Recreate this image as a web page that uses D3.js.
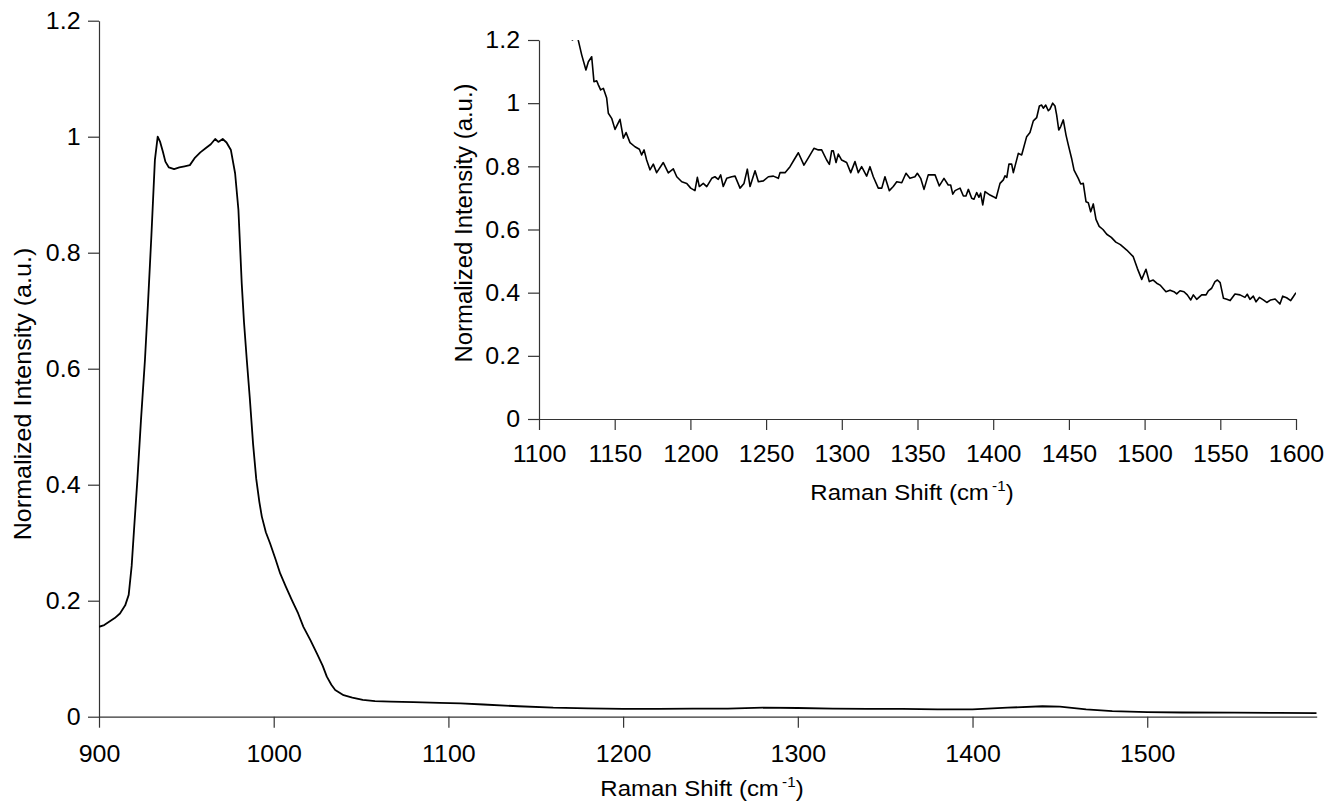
<!DOCTYPE html>
<html>
<head>
<meta charset="utf-8">
<script src="https://cdn.jsdelivr.net/npm/d3@7"></script>
<style>
  body { margin: 0; background: #fff; }
  text { font-family: "Liberation Sans", Arial, sans-serif; fill: #000; }
</style>
</head>
<body>
<script>
//** Main spectrum (900 - 1597 cm-1)
var mainShift = [900, 903, 906, 909, 912, 915, 917, 918.7, 920, 922, 924, 926.3, 928, 930, 932, 933.6, 935, 936.5,
  938, 940, 943, 946, 949, 952, 955, 958, 961, 964, 966.5, 968.3, 970.8, 973, 975.5, 977.9, 979.8, 981.7, 983,
  984.6, 986.3, 988.2, 990, 991.8, 993.2, 995.5, 997.9, 1001, 1003.7, 1007, 1010.4, 1014, 1017, 1021, 1024.7, 1028,
  1030.4, 1033, 1035.2, 1040, 1045, 1051, 1058, 1067, 1080, 1095, 1107, 1120, 1140, 1160, 1180, 1200, 1220,
  1240, 1260, 1280, 1300, 1320, 1340, 1360, 1380, 1400, 1420, 1440, 1450, 1465, 1480, 1500, 1520, 1550, 1575, 1597];
var mainIntensity = [0.155, 0.158, 0.164, 0.170, 0.178, 0.192, 0.21, 0.26, 0.32, 0.41, 0.51, 0.615, 0.71, 0.83,
  0.96, 1.0, 0.991, 0.975, 0.957, 0.947, 0.944, 0.947, 0.949, 0.951, 0.964, 0.973, 0.980, 0.987, 0.996, 0.991,
  0.996, 0.990, 0.977, 0.937, 0.874, 0.747, 0.68, 0.615, 0.55, 0.47, 0.41, 0.37, 0.345, 0.318, 0.299, 0.272, 0.247,
  0.224, 0.201, 0.178, 0.155, 0.132, 0.109, 0.088, 0.069, 0.055, 0.046, 0.037, 0.033, 0.029, 0.027, 0.026, 0.025,
  0.024, 0.023, 0.021, 0.018, 0.0155, 0.0145, 0.0135, 0.0135, 0.0138, 0.014, 0.0155, 0.015, 0.014, 0.0135,
  0.0135, 0.0128, 0.0125, 0.0155, 0.018, 0.0175, 0.0125, 0.0095, 0.0078, 0.0072, 0.007, 0.0065, 0.006];

//** Inset spectrum (1100 - 1600 cm-1)
var insetShift = [1122, 1124, 1126, 1128.2, 1131, 1132.6, 1134.8, 1136.3, 1138.1, 1139.2, 1140.7, 1142.5, 1144.7,
  1145.8, 1148, 1150.2, 1153.5, 1155.7, 1157.5, 1160.1, 1163.4, 1166.3, 1167.8, 1169.4, 1171.1, 1173.3, 1175.5,
  1177.7, 1182.1, 1185.4, 1188.7, 1191, 1194.3, 1197.6, 1200.2, 1203, 1204.6, 1205.9, 1208.5, 1210.8, 1214.1,
  1216.2, 1218.4, 1220, 1221.7, 1224, 1227.3, 1229.5, 1232.8, 1235.4, 1237.6, 1239.4, 1242.7, 1244.9, 1248.2,
  1251.5, 1254.8, 1258.1, 1259.2, 1262.5, 1265.8, 1268.4, 1271.3, 1275, 1277.9, 1281.6, 1284.5, 1286.7, 1290,
  1291.8, 1293.3, 1294.4, 1296.2, 1297.7, 1299.9, 1303.2, 1305.9, 1308.7, 1310.9, 1313.1, 1316.4, 1318.6, 1320.8,
  1324.1, 1326.4, 1328.5, 1331.4, 1334, 1336.3, 1339.6, 1342.4, 1345, 1348.3, 1349.9, 1352.1, 1354.3, 1357.1,
  1360, 1361.6, 1364.4, 1367.5, 1370.3, 1371.9, 1373.3, 1374.8, 1378.1, 1380.3, 1382, 1383.6, 1385.8, 1387.3,
  1389.1, 1390.6, 1391.7, 1393.1, 1394.6, 1397.9, 1400.1, 1401.9, 1404.5, 1406.7, 1407.8, 1409, 1410.4, 1412.2,
  1413.3, 1416.6, 1418.8, 1422.1, 1424.3, 1426.5, 1428.7, 1430.5, 1432, 1433.1, 1434.7, 1436.4, 1437.5, 1439.3,
  1440.8, 1441.9, 1443.3, 1444.6, 1446.3, 1448.1, 1449.6, 1451.8, 1453.4, 1456.2, 1457.8, 1459.5, 1461.3, 1462.8,
  1464.4, 1466.1, 1467.9, 1470, 1472.5, 1475, 1478, 1481, 1484, 1488.2, 1492.5, 1495.2, 1498.1, 1500.9, 1503.1,
  1505.7, 1508, 1510.2, 1514.1, 1516.8, 1519.4, 1521.2, 1523.4, 1526, 1528.2, 1530.5, 1532.2, 1534.4, 1537.7,
  1540.6, 1542.1, 1544.3, 1546.5, 1548.1, 1549.9, 1552.1, 1554.3, 1556.5, 1559.7, 1563, 1566.3, 1567.8, 1569.6,
  1571.8, 1573.6, 1575.8, 1578.4, 1580.7, 1583.3, 1586.2, 1589.4, 1591.2, 1593.8, 1596.5, 1598.2, 1600];
var insetIntensity = [1.198, 1.25, 1.198, 1.153, 1.105, 1.131, 1.147, 1.068, 1.071, 1.058, 1.042, 1.047, 1.016,
  0.968, 0.952, 0.917, 0.949, 0.889, 0.907, 0.875, 0.862, 0.854, 0.836, 0.852, 0.820, 0.789, 0.807,
  0.780, 0.812, 0.779, 0.792, 0.767, 0.751, 0.746, 0.731, 0.723, 0.765, 0.736, 0.746, 0.736, 0.762,
  0.767, 0.759, 0.773, 0.736, 0.762, 0.767, 0.769, 0.731, 0.746, 0.791, 0.736, 0.786, 0.751, 0.754,
  0.767, 0.769, 0.762, 0.780, 0.780, 0.799, 0.820, 0.843, 0.804, 0.827, 0.857, 0.852, 0.852, 0.820,
  0.806, 0.849, 0.849, 0.812, 0.839, 0.820, 0.812, 0.780, 0.815, 0.780, 0.799, 0.769, 0.799, 0.767,
  0.731, 0.731, 0.767, 0.723, 0.736, 0.751, 0.748, 0.778, 0.762, 0.767, 0.778, 0.762, 0.727, 0.773,
  0.773, 0.773, 0.738, 0.762, 0.741, 0.741, 0.712, 0.723, 0.731, 0.706, 0.706, 0.727, 0.699, 0.696,
  0.717, 0.702, 0.715, 0.678, 0.720, 0.709, 0.704, 0.699, 0.746, 0.757, 0.770, 0.765, 0.807, 0.807,
  0.780, 0.841, 0.836, 0.894, 0.907, 0.944, 0.954, 0.991, 0.994, 0.984, 0.994, 0.976, 0.981, 1.0,
  0.991, 0.963, 0.915, 0.926, 0.947, 0.899, 0.868, 0.825, 0.788, 0.762, 0.744, 0.746, 0.688, 0.685,
  0.656, 0.681, 0.632, 0.61, 0.6, 0.585, 0.575, 0.56, 0.552, 0.535, 0.514, 0.477, 0.442, 0.474, 0.435,
  0.44, 0.430, 0.424, 0.403, 0.408, 0.403, 0.396, 0.406, 0.403, 0.393, 0.377, 0.393, 0.379, 0.393,
  0.393, 0.406, 0.414, 0.435, 0.44, 0.432, 0.382, 0.379, 0.375, 0.396, 0.393, 0.385, 0.395, 0.379,
  0.389, 0.371, 0.385, 0.377, 0.369, 0.377, 0.38, 0.364, 0.389, 0.384, 0.375, 0.387, 0.4];

//** Tick labels
var mainXTicks = [900, 1000, 1100, 1200, 1300, 1400, 1500];
var insetXTicks = [1100, 1150, 1200, 1250, 1300, 1350, 1400, 1450, 1500, 1550, 1600];
var yTicks = [0, 0.2, 0.4, 0.6, 0.8, 1, 1.2];

// ** text in the original is a bit wider than plain Liberation Sans
var tickStretch = 1.04;
var titleStretch = 1.09;

var svg = d3.select('body').append('svg')
            .attr('width', 1340)
            .attr('height', 804);

//** Draw one panel (axes + titles + line)
var drawPanel = function(opt){
  var x = d3.scaleLinear().domain(opt.xDomain).range([opt.left, opt.right]);
  var y = d3.scaleLinear().domain([0, 1.2]).range([opt.bottom, opt.top]);

  var clipId = opt.name + '-clip';
  svg.append('clipPath').attr('id', clipId)
     .append('rect')
     .attr('x', opt.left).attr('y', opt.top)
     .attr('width', opt.right - opt.left).attr('height', opt.bottom - opt.top);

  var gx = svg.append('g')
      .attr('transform', 'translate(0,' + opt.bottom + ')')
      .call(d3.axisBottom(x).tickValues(opt.xTicks).tickFormat(d3.format('d'))
            .tickSize(11).tickSizeOuter(0).tickPadding(opt.xPad));
  var gy = svg.append('g')
      .attr('transform', 'translate(' + opt.left + ',0)')
      .call(d3.axisLeft(y).tickValues(yTicks).tickFormat(d3.format(''))
            .tickSize(11).tickSizeOuter(0).tickPadding(opt.yPad));

  [gx, gy].forEach(function(g){
    g.select('.domain').attr('stroke', '#333').attr('stroke-width', 1.2);
    g.selectAll('.tick line').attr('stroke', '#333').attr('stroke-width', 1.2);
    g.selectAll('.tick text')
     .style('font-size', '24px').attr('fill', '#000')
     .attr('transform', 'scale(' + tickStretch + ',1)');
  });
  gy.selectAll('.tick text').attr('x', -(11 + opt.yPad) / tickStretch);

  //** Line
  var pts = opt.xs.map(function(d, i){ return [d, opt.ys[i]]; });
  svg.append('path')
     .datum(pts)
     .attr('clip-path', 'url(#' + clipId + ')')
     .attr('fill', 'none')
     .attr('stroke', '#000')
     .attr('stroke-width', opt.lineWidth)
     .attr('stroke-linejoin', 'round')
     .attr('d', d3.line().x(function(d){ return x(d[0]); }).y(function(d){ return y(d[1]); }));

  //** X title with superscript
  var xt = svg.append('text')
      .attr('transform', 'translate(' + opt.xTitle[0] + ',' + opt.xTitle[1] + ') scale(' + titleStretch + ',1)')
      .attr('text-anchor', 'middle')
      .style('font-size', '22px');
  xt.append('tspan').text('Raman Shift (cm');
  xt.append('tspan').attr('dx', 3).attr('dy', -9).style('font-size', '14px').text('-1');
  xt.append('tspan').attr('dy', 9).text(')');

  //** Y title
  svg.append('text')
     .attr('transform', 'translate(' + opt.yTitle[0] + ',' + opt.yTitle[1] + ') rotate(-90) scale(' + opt.yStretch + ',1)')
     .attr('text-anchor', 'middle')
     .style('font-size', '23px')
     .text('Normalized Intensity (a.u.)');
};

drawPanel({
  name: 'main', xDomain: [900, 1597], xTicks: mainXTicks,
  left: 99, right: 1316.7, top: 20.7, bottom: 716.7,
  xPad: 17, yPad: 7.5, xs: mainShift, ys: mainIntensity, lineWidth: 1.8,
  xTitle: [702, 796], yTitle: [31, 394], yStretch: 1.09
});

drawPanel({
  name: 'inset', xDomain: [1100, 1600], xTicks: insetXTicks,
  left: 539, right: 1296, top: 40, bottom: 419,
  xPad: 15, yPad: 8, xs: insetShift, ys: insetIntensity, lineWidth: 1.6,
  xTitle: [912, 500], yTitle: [471.5, 223], yStretch: 1.04
});
</script>
</body>
</html>
